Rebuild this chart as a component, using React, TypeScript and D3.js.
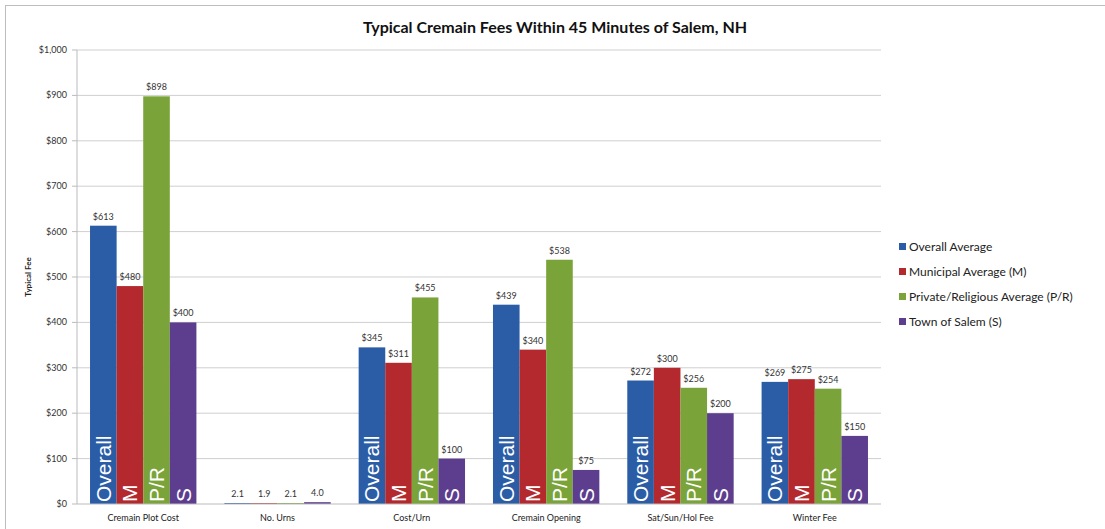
import React from "react";
import * as d3 from "d3";

const categories = ["Cremain Plot Cost", "No. Urns", "Cost/Urn", "Cremain Opening", "Sat/Sun/Hol Fee", "Winter Fee"];
const seriesNames = ["Overall Average", "Municipal Average (M)", "Private/Religious Average (P/R)", "Town of Salem (S)"];
const seriesShort = ["Overall", "M", "P/R", "S"];
const overallValues = [613, 2.1, 345, 439, 272, 269];
const municipalValues = [480, 1.9, 311, 340, 300, 275];
const privateValues = [898, 2.1, 455, 538, 256, 254];
const salemValues = [400, 4.0, 100, 75, 200, 150];
const yTicks = [0, 100, 200, 300, 400, 500, 600, 700, 800, 900, 1000];
const colors = ["#2b5ca6", "#b3292d", "#7aa43a", "#5c3d8e"];

const seriesValues = [overallValues, municipalValues, privateValues, salemValues];

export default function App() {
  const W = 1105;
  const H = 529;
  const plot = { left: 77, right: 881, top: 50, bottom: 504 };

  const x0 = d3.scaleBand<string>()
    .domain(categories)
    .range([plot.left, plot.right])
    .paddingInner(0.208)
    .paddingOuter(0.097);
  const x1 = d3.scaleBand<string>()
    .domain(seriesShort)
    .range([0, x0.bandwidth()]);
  const y = d3.scaleLinear().domain([0, 1000]).range([plot.bottom, plot.top]);

  const fmtTick = (v: number) => "$" + d3.format(",")(v);
  const fmtLabel = (ci: number, v: number) => (categories[ci] === "No. Urns" ? v.toFixed(1) : "$" + v);

  const font = "Lato, 'Open Sans', sans-serif";

  return (
    <div style={{ position: "fixed", left: 0, top: 0, background: "#fff" }}>
      <svg width={W} height={H} style={{ display: "block" }}>
        <rect x={0} y={0} width={W} height={H} fill="#fff" />
        <rect x={5.5} y={5.5} width={W - 4} height={H - 4} fill="none" stroke="#bdbdbd" strokeWidth={1} />

        <text x={555} y={33} textAnchor="middle" fontFamily={font} fontWeight="bold" fontSize={16} fill="#111">
          Typical Cremain Fees Within 45 Minutes of Salem, NH
        </text>

        {/* gridlines */}
        {yTicks.filter((t) => t > 0).map((t) => (
          <line key={t} x1={plot.left} x2={plot.right} y1={y(t)} y2={y(t)} stroke="#cfcfcf" strokeWidth={1} />
        ))}

        {/* y axis */}
        <line x1={plot.left} x2={plot.left} y1={plot.top} y2={plot.bottom} stroke="#bbb" />
        {yTicks.map((t) => (
          <g key={"t" + t}>
            <line x1={plot.left - 5} x2={plot.left} y1={y(t)} y2={y(t)} stroke="#bbb" />
            <text x={plot.left - 10} y={y(t) + 3} textAnchor="end" fontFamily={font} fontSize={9} fill="#333">
              {fmtTick(t)}
            </text>
          </g>
        ))}
        <text transform={`translate(31,${(plot.top + plot.bottom) / 2}) rotate(-90)`} textAnchor="middle"
          fontFamily={font} fontWeight="bold" fontSize={8} fill="#222">
          Typical Fee
        </text>

        {/* bars */}
        {categories.map((cat, ci) => (
          <g key={cat} transform={`translate(${x0(cat)},0)`}>
            {seriesShort.map((s, si) => {
              const v = seriesValues[si][ci];
              const bx = x1(s) as number;
              const bw = x1.bandwidth();
              const top = y(v);
              const showInner = cat !== "No. Urns";
              return (
                <g key={s}>
                  <rect x={bx} y={top} width={bw} height={plot.bottom - top} fill={colors[si]} />
                  <text x={bx + bw / 2} y={top - 6} textAnchor="middle" fontFamily={font} fontSize={9} fill="#333">
                    {fmtLabel(ci, v)}
                  </text>
                  {showInner && (
                    <text transform={`translate(${bx + bw / 2 + 7.5},${plot.bottom - 2}) rotate(-90)`}
                      fontFamily="'Liberation Sans', Arial, sans-serif" fontSize={21} fill="#fff">
                      {s}
                    </text>
                  )}
                </g>
              );
            })}
          </g>
        ))}

        {/* x axis */}
        <line x1={plot.left} x2={plot.right} y1={plot.bottom} y2={plot.bottom} stroke="#bbb" />
        {categories.map((cat) => (
          <text key={"x" + cat} x={(x0(cat) as number) + x0.bandwidth() / 2} y={521} textAnchor="middle"
            fontFamily={font} fontSize={9} fill="#222">
            {cat}
          </text>
        ))}

        {/* legend */}
        {seriesNames.map((n, i) => (
          <g key={n} transform={`translate(899,${247 + i * 25})`}>
            <rect x={0} y={-4} width={7} height={7} fill={colors[i]} />
            <text x={10} y={3.5} fontFamily={font} fontSize={12} fill="#222">{n}</text>
          </g>
        ))}
      </svg>
    </div>
  );
}
